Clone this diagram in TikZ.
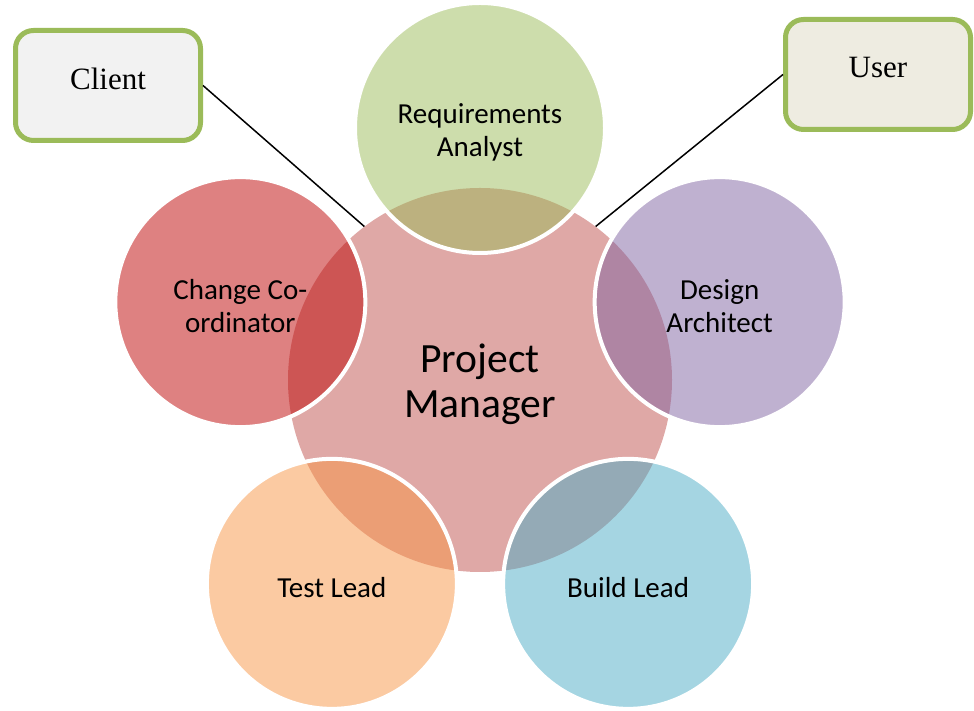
\documentclass[tikz,border=0pt]{standalone}
\usepackage{fontspec}
\setmainfont{Carlito}
\newfontfamily\boxfont{Liberation Serif}

\definecolor{pmred}{HTML}{C0504D}
\definecolor{reqgreen}{HTML}{9BBB59}
\definecolor{archpurple}{HTML}{8064A2}
\definecolor{buildblue}{HTML}{4BACC6}
\definecolor{testorange}{HTML}{F79646}
\definecolor{changered}{HTML}{BD0303}
\definecolor{clientgray}{HTML}{F2F2F2}
\definecolor{userbeige}{HTML}{EEECE1}

\begin{document}
\begin{tikzpicture}[x=1pt,y=1pt,
	role/.style={circle, inner sep=0pt, minimum size=250pt, fill opacity=0.5,
		draw=white, line width=4pt},
	roletext/.style={yshift=-4pt, align=center, text opacity=1, font=\fontsize{29}{33}\selectfont},
	party/.style={rectangle, rounded corners=18pt, draw=reqgreen, line width=5pt,
		minimum width=185pt, minimum height=110pt, text depth=14pt, font=\boxfont\fontsize{31}{35}\selectfont}]

	\useasboundingbox (0,0) rectangle (974,711);

            \node[circle, inner sep=0pt, minimum size=384pt, fill=pmred!50,
              label={[yshift=-4pt, align=center, font=\fontsize{41.6}{45}\selectfont]center:Project\\Manager}] (pm) at (480,331) {};

            % the five roles round the manager
            \foreach \theta/\name/\col/\txt in {90/req/reqgreen/{Requirements\\Analyst},
              18/arch/archpurple/{Design\\Architect}, -54/build/buildblue/{Build Lead},
              -126/test/testorange/{Test Lead}, 162/change/changered/{Change Co-\\ordinator}}{
              \node[role, fill=\col, label={[roletext]center:\txt}] (\name) at ([shift={(\theta:252)}]pm) {};
            }

            \node[party, fill=clientgray] (client) at (108,625.5) {Client};
            \node[party, fill=userbeige] (user) at (878,636.5) {User};

            \draw[line width=1.5pt] (client.east) -- (pm.127);
            \draw[line width=1.5pt] (user.west) -- (pm.53);

        \end{tikzpicture}
\end{document}
